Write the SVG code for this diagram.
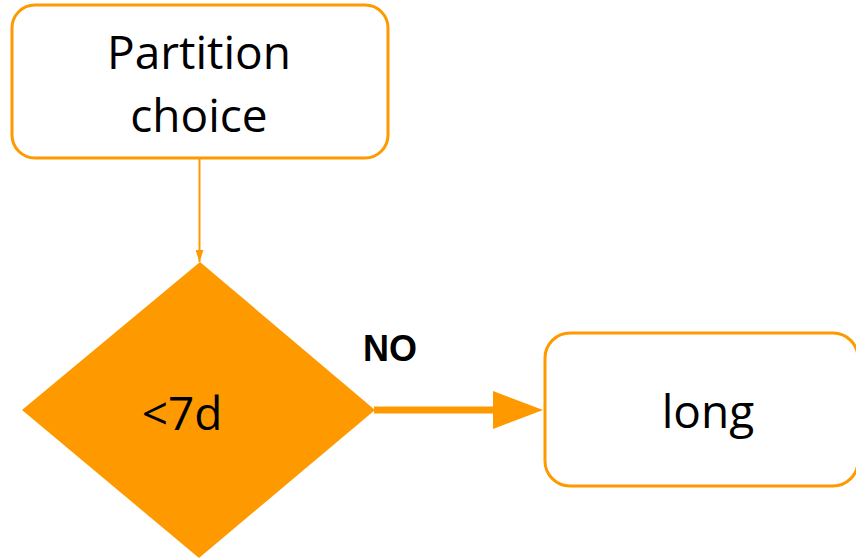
<svg xmlns="http://www.w3.org/2000/svg" width="856" height="559" viewBox="0 0 856 559">
<defs>
<style>
.box{fill:#fff;stroke:#FF9900;stroke-width:3}
.lbl{font-family:"Open Sans",sans-serif;font-size:46px;fill:#000;text-anchor:middle}
.edge{font-family:"Liberation Sans",Arial,sans-serif;font-weight:bold;font-size:36px;fill:#000;text-anchor:middle}
</style>
<marker id="small" markerUnits="userSpaceOnUse" markerWidth="12" markerHeight="8" refX="12" refY="4" viewBox="0 0 12 8" orient="auto">
<path d="M0,0 L12,4 L0,8 Z" fill="#FF9900"/>
</marker>
</defs>
<rect width="856" height="559" fill="#fff"/>
<g id="connectors">
<line x1="199.5" y1="159" x2="199.5" y2="262" stroke="#FF9900" stroke-width="2" marker-end="url(#small)"/>
<line x1="374" y1="410" x2="495" y2="410" stroke="#FF9900" stroke-width="7"/>
<path d="M493,391 L543,410 L493,429 Z" fill="#FF9900"/>
<text class="edge" x="390" y="361">NO</text>
</g>
<g id="partition">
<rect class="box" x="12" y="5" width="376" height="153" rx="23"/>
<text class="lbl" x="199" y="69">Partition</text>
<text class="lbl" x="199" y="132">choice</text>
</g>
<g id="decision">
<polygon points="200,262 375,410 199,558 22,410" fill="#FF9900"/>
<text class="lbl" x="182" y="430">&lt;7d</text>
</g>
<g id="long">
<rect class="box" x="545" y="333" width="313" height="153" rx="25"/>
<text class="lbl" x="708" y="428">long</text>
</g>
</svg>
